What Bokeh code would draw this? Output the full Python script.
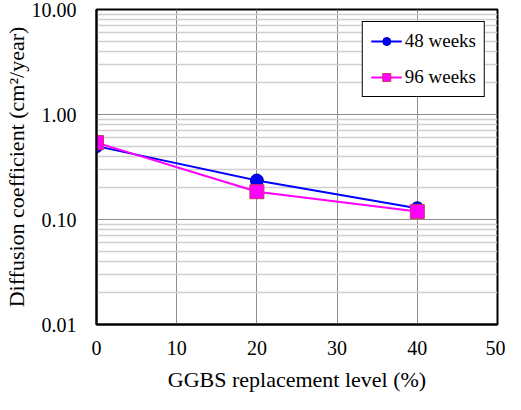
from bokeh.plotting import figure
from bokeh.models import FixedTicker, Range1d, Legend, LegendItem
from bokeh.embed import file_html
from bokeh.resources import INLINE

levels = [0, 20, 40]
d48 = [0.50, 0.235, 0.128]
d96 = [0.54, 0.184, 0.119]
x_ticks = [0, 10, 20, 30, 40, 50]
y_ticks = [0.01, 0.1, 1, 10]
y_labels = {0.01: "0.01", 0.1: "0.10", 1: "1.00", 10: "10.00"}
minor_y = [m * d for d in [0.01, 0.1, 1] for m in range(2, 10)]

FONT = "Liberation Serif"

p = figure(width=505, height=394, y_axis_type="log", output_backend="svg",
           toolbar_location=None, x_range=Range1d(0, 50), y_range=Range1d(0.01, 10),
           min_border_left=96, min_border_right=8, min_border_top=9, min_border_bottom=68)

p.xaxis.ticker = FixedTicker(ticks=x_ticks)
p.yaxis.ticker = FixedTicker(ticks=y_ticks, minor_ticks=minor_y)
p.yaxis.major_label_overrides = y_labels

for ax in (p.xaxis[0], p.yaxis[0]):
    ax.major_tick_line_color = None
    ax.minor_tick_line_color = None
    ax.axis_line_color = "black"
    ax.axis_line_width = 2
    ax.major_label_text_font = FONT
    ax.major_label_text_font_size = "20px"
    ax.major_label_text_color = "black"
    ax.axis_label_text_font = FONT
    ax.axis_label_text_font_size = "22px"
    ax.axis_label_text_font_style = "normal"
    ax.axis_label_text_color = "black"

p.xaxis.axis_label = "GGBS replacement level (%)"
p.yaxis.axis_label = "Diffusion coefficient (cm\u00b2/year)"
p.xaxis.major_label_standoff = 10
p.xaxis.axis_label_standoff = 9
p.yaxis.major_label_standoff = 14
p.yaxis.axis_label_standoff = 0

p.xgrid.grid_line_color = "#8c8c8c"
p.xgrid.grid_line_width = 1
p.ygrid.grid_line_color = "#8c8c8c"
p.ygrid.grid_line_width = 1
p.ygrid.minor_grid_line_color = "#cfcfcf"
p.ygrid.minor_grid_line_width = 1.5

p.outline_line_color = "black"
p.outline_line_width = 2
p.background_fill_color = "white"
p.border_fill_color = "white"

l1 = p.line(levels, d48, line_color="#0000ff", line_width=2)
s1 = p.scatter(levels, d48, marker="circle", size=13, fill_color="#0000ff", line_color="#0000aa")
l2 = p.line(levels, d96, line_color="#ff00ff", line_width=2)
s2 = p.scatter(levels, d96, marker="square", size=14, fill_color="#ff00ff", line_color="#cc3366")

legend = Legend(items=[LegendItem(label="48 weeks", renderers=[l1, s1]),
                       LegendItem(label="96 weeks", renderers=[l2, s2])],
                location="top_right")
legend.label_text_font = FONT
legend.label_text_font_size = "19px"
legend.label_text_color = "black"
legend.border_line_color = "black"
legend.border_line_width = 1
legend.border_line_alpha = 1
legend.background_fill_alpha = 1
legend.glyph_width = 31
legend.glyph_height = 20
legend.label_height = 20
legend.label_standoff = 3
legend.spacing = 14
legend.padding = 8
legend.margin = 12
p.add_layout(legend)

open("out.html", "w").write(file_html(p, INLINE))
